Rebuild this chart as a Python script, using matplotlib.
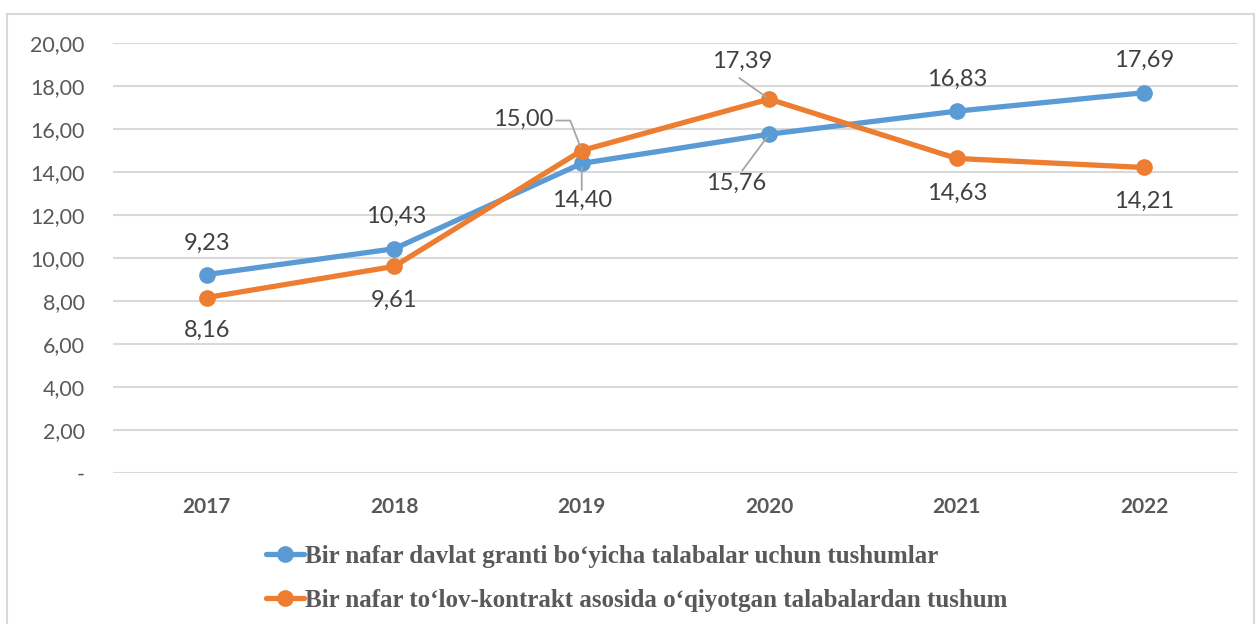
import matplotlib.pyplot as plt
from matplotlib.patches import Rectangle

years = ['2017', '2018', '2019', '2020', '2021', '2022']
grant = [9.23, 10.43, 14.40, 15.76, 16.83, 17.69]
contract = [8.16, 9.61, 15.00, 17.39, 14.63, 14.21]
grant_label = 'Bir nafar davlat granti bo‘yicha talabalar uchun tushumlar'
contract_label = 'Bir nafar to‘lov-kontrakt asosida o‘qiyotgan talabalardan tushum'
yticks = [0, 2, 4, 6, 8, 10, 12, 14, 16, 18, 20]
ytick_labels = ['-'] + [('%.2f' % v).replace('.', ',') for v in yticks[1:]]

blue = '#5B9BD5'
orange = '#ED7D31'
grey = '#595959'
txt = '#404040'

fig = plt.figure(figsize=(12.58, 6.24), dpi=100)
fig.patches.append(Rectangle((7 / 1258, -0.01), 1247 / 1258, 1 - 14 / 624 + 0.01,
                             transform=fig.transFigure, fill=False,
                             edgecolor='#D9D9D9', linewidth=1.5))
ax = fig.add_axes([113 / 1258, 1 - 473 / 624, 1125 / 1258, 430 / 624])

x = list(range(len(years)))
ax.plot(x, grant, color=blue, lw=3.8, marker='o', ms=11, label=grant_label,
        solid_capstyle='round', zorder=3)
ax.plot(x, contract, color=orange, lw=3.8, marker='o', ms=11, label=contract_label,
        solid_capstyle='round', zorder=3)

ax.set_xlim(-0.5, len(years) - 0.5)
ax.set_ylim(0, 20)
ax.set_yticks(yticks)
ax.set_yticklabels(ytick_labels, fontsize=15.5, color=grey, family='Lato')
ax.set_xticks(x)
ax.set_xticklabels(years, fontsize=15, color=grey, fontweight='bold', family='Lato')
ax.tick_params(length=0, pad=0)
ax.tick_params(axis='y', pad=20.5)
ax.tick_params(axis='x', pad=17.5)
ax.grid(axis='y', color='#D9D9D9', lw=1.5)
ax.set_axisbelow(True)
for s in ax.spines.values():
    s.set_visible(False)

# data label offsets in pixels (dx, dy) relative to the point
grant_off = [(0, 31), (2, 32), (0, -37), (-33, -49), (0, 32), (0, 32)]
contract_off = [(0, -33), (0, -34), (-59, 31), (-27, 38), (0, -35), (0, -34)]
# leader lines: (connection style, start point on the label box)
leaders_g = [None, None, ('arc3', (0.5, 1.0)), ('arc3', (0.6, 1.1)), None, None]
leaders_c = [None, None, ('angle,angleA=0,angleB=111,rad=0', (1.05, 0.45)),
             ('arc3', (0.45, -0.3)), None, None]


def fmt(v):
    return ('%.2f' % v).replace('.', ',')


for i in x:
    for vals, offs, lead in ((grant, grant_off, leaders_g), (contract, contract_off, leaders_c)):
        ap = None
        if lead[i]:
            ap = dict(arrowstyle='-', color='#A6A6A6', lw=1.3, shrinkA=0, shrinkB=3,
                      patchA=None, connectionstyle=lead[i][0], relpos=lead[i][1])
        ax.annotate(fmt(vals[i]), (i, vals[i]), xytext=offs[i], textcoords='offset pixels',
                    ha='center', va='center', fontsize=17, color=txt, family='Lato',
                    arrowprops=ap, zorder=4)

fig.legend(loc='upper left', bbox_to_anchor=(266 / 1258, 1 - 545 / 624), frameon=False,
           prop={'family': 'Liberation Serif', 'weight': 'bold', 'size': 18},
           labelcolor=grey, handlelength=1.5, handletextpad=0.05, labelspacing=0.84,
           borderpad=0, borderaxespad=0)

fig.savefig('out.png', dpi=100)
